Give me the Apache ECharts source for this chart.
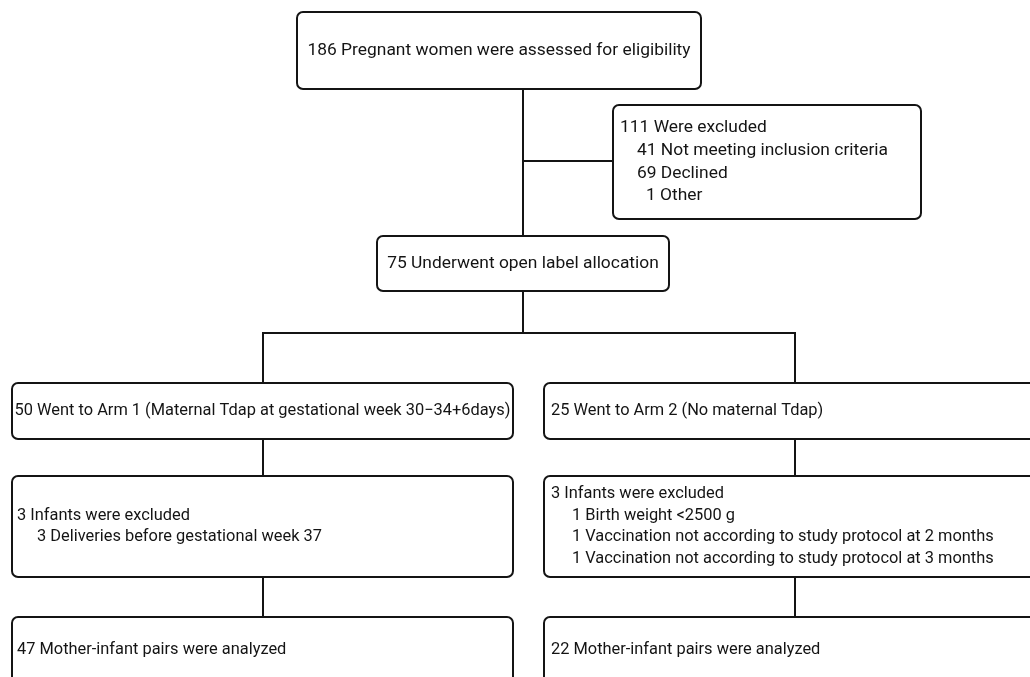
<!DOCTYPE html>
<html>
<head>
<meta charset="utf-8">
<script src="https://cdn.jsdelivr.net/npm/echarts@6/dist/echarts.min.js"></script>
<style>
  html, body { margin: 0; padding: 0; background: #fff; }
  #main { width: 1030px; height: 677px; }
</style>
</head>
<body>
<div id="main"></div>
<script>
// counts
const assessed = 186
const excludedTotal = 111
const excludedReasons = ['Not meeting inclusion criteria', 'Declined', 'Other']
const excludedCounts = [41, 69, 1]
const allocated = 75
const armCounts = [50, 25]
const armLabels = ['Arm 1 (Maternal Tdap at gestational week 30\u221234+6days)', 'Arm 2 (No maternal Tdap)']
const infantsExcluded = [3, 3]
const arm1Reasons = ['Deliveries before gestational week 37']
const arm1ReasonCounts = [3]
const arm2Reasons = ['Birth weight <2500 g', 'Vaccination not according to study protocol at 2 months', 'Vaccination not according to study protocol at 3 months']
const arm2ReasonCounts = [1, 1, 1]
const analyzed = [47, 22]

// box text, one list of lines per box
const boxLines = [
  [assessed + ' Pregnant women were assessed for eligibility'],
  [excludedTotal + ' Were excluded'].concat(excludedReasons.map((r, i) => excludedCounts[i] + ' ' + r)),
  [allocated + ' Underwent open label allocation'],
  [armCounts[0] + ' Went to ' + armLabels[0]],
  [armCounts[1] + ' Went to ' + armLabels[1]],
  [infantsExcluded[0] + ' Infants were excluded'].concat(arm1Reasons.map((r, i) => arm1ReasonCounts[i] + ' ' + r)),
  [infantsExcluded[1] + ' Infants were excluded'].concat(arm2Reasons.map((r, i) => arm2ReasonCounts[i] + ' ' + r)),
  [analyzed[0] + ' Mother-infant pairs were analyzed'],
  [analyzed[1] + ' Mother-infant pairs were analyzed']
]

// layout (page pixels): box corners, text alignment, padding, line indents
const boxRects = [
  [297, 12, 701, 89],
  [613, 105, 921, 219],
  [377, 236, 669, 291],
  [12, 383, 513, 439],
  [544, 383, 1040, 439],
  [12, 476, 513, 577],
  [544, 476, 1040, 577],
  [12, 617, 513, 683],
  [544, 617, 1040, 683]
]
const boxAlign = ['center', 'left', 'center', 'center', 'left', 'left', 'left', 'left', 'left']
const boxPad = [0, 7, 0, 0, 7, 5, 7, 5, 7]
const boxIndent = [[0], [0, 17, 17, 26], [0], [0], [0], [0, 20], [0, 21, 21, 21], [0], [0]]
const boxLineHeight = [21, 22.7, 21, 21, 21, 21, 21.5, 21, 21]
const boxFontSize = [17.4, 17.4, 17.4, 16.4, 16.4, 16.4, 16.4, 16.4, 16.4]

const connectors = [
  [[523, 89], [523, 236]],
  [[523, 161], [613, 161]],
  [[523, 291], [523, 333]],
  [[263, 383], [263, 333], [795, 333], [795, 383]],
  [[263, 439], [263, 476]],
  [[795, 439], [795, 476]],
  [[263, 577], [263, 617]],
  [[795, 577], [795, 617]]
]

const INK = '#141414'
const chart = echarts.init(document.getElementById('main'))

function renderBox(params, api) {
  const i = api.value(4)
  const p0 = api.coord([api.value(0), api.value(1)])
  const p1 = api.coord([api.value(2), api.value(3)])
  const lines = boxLines[i]
  const lh = boxLineHeight[i]
  const cy = (p0[1] + p1[1]) / 2
  const children = [{
    type: 'rect',
    shape: { x: p0[0], y: p0[1], width: p1[0] - p0[0], height: p1[1] - p0[1], r: 6 },
    style: { fill: '#fff', stroke: INK, lineWidth: 2 }
  }]
  lines.forEach((t, k) => {
    const centered = boxAlign[i] === 'center'
    children.push({
      type: 'text',
      x: centered ? (p0[0] + p1[0]) / 2 : p0[0] + boxPad[i] + (boxIndent[i][k] || 0),
      y: cy + (k - (lines.length - 1) / 2) * lh,
      style: {
        text: t,
        fill: INK,
        font: boxFontSize[i] + 'px Roboto',
        align: centered ? 'center' : 'left',
        verticalAlign: 'middle'
      }
    })
  })
  return { type: 'group', children }
}

chart.setOption({
  animation: false,
  grid: { left: 0, right: 0, top: 0, bottom: 0 },
  xAxis: { type: 'value', min: 0, max: 1030, show: false },
  yAxis: { type: 'value', min: 0, max: 677, inverse: true, show: false },
  series: [
    {
      type: 'lines',
      coordinateSystem: 'cartesian2d',
      polyline: true,
      silent: true,
      z: 1,
      lineStyle: { color: INK, width: 2, opacity: 1 },
      data: connectors.map(c => ({ coords: c }))
    },
    {
      type: 'custom',
      z: 2,
      clip: false,
      silent: true,
      renderItem: renderBox,
      encode: { x: [0, 2], y: [1, 3] },
      data: boxRects.map((r, i) => r.concat(i))
    }
  ]
})
</script>
</body>
</html>
